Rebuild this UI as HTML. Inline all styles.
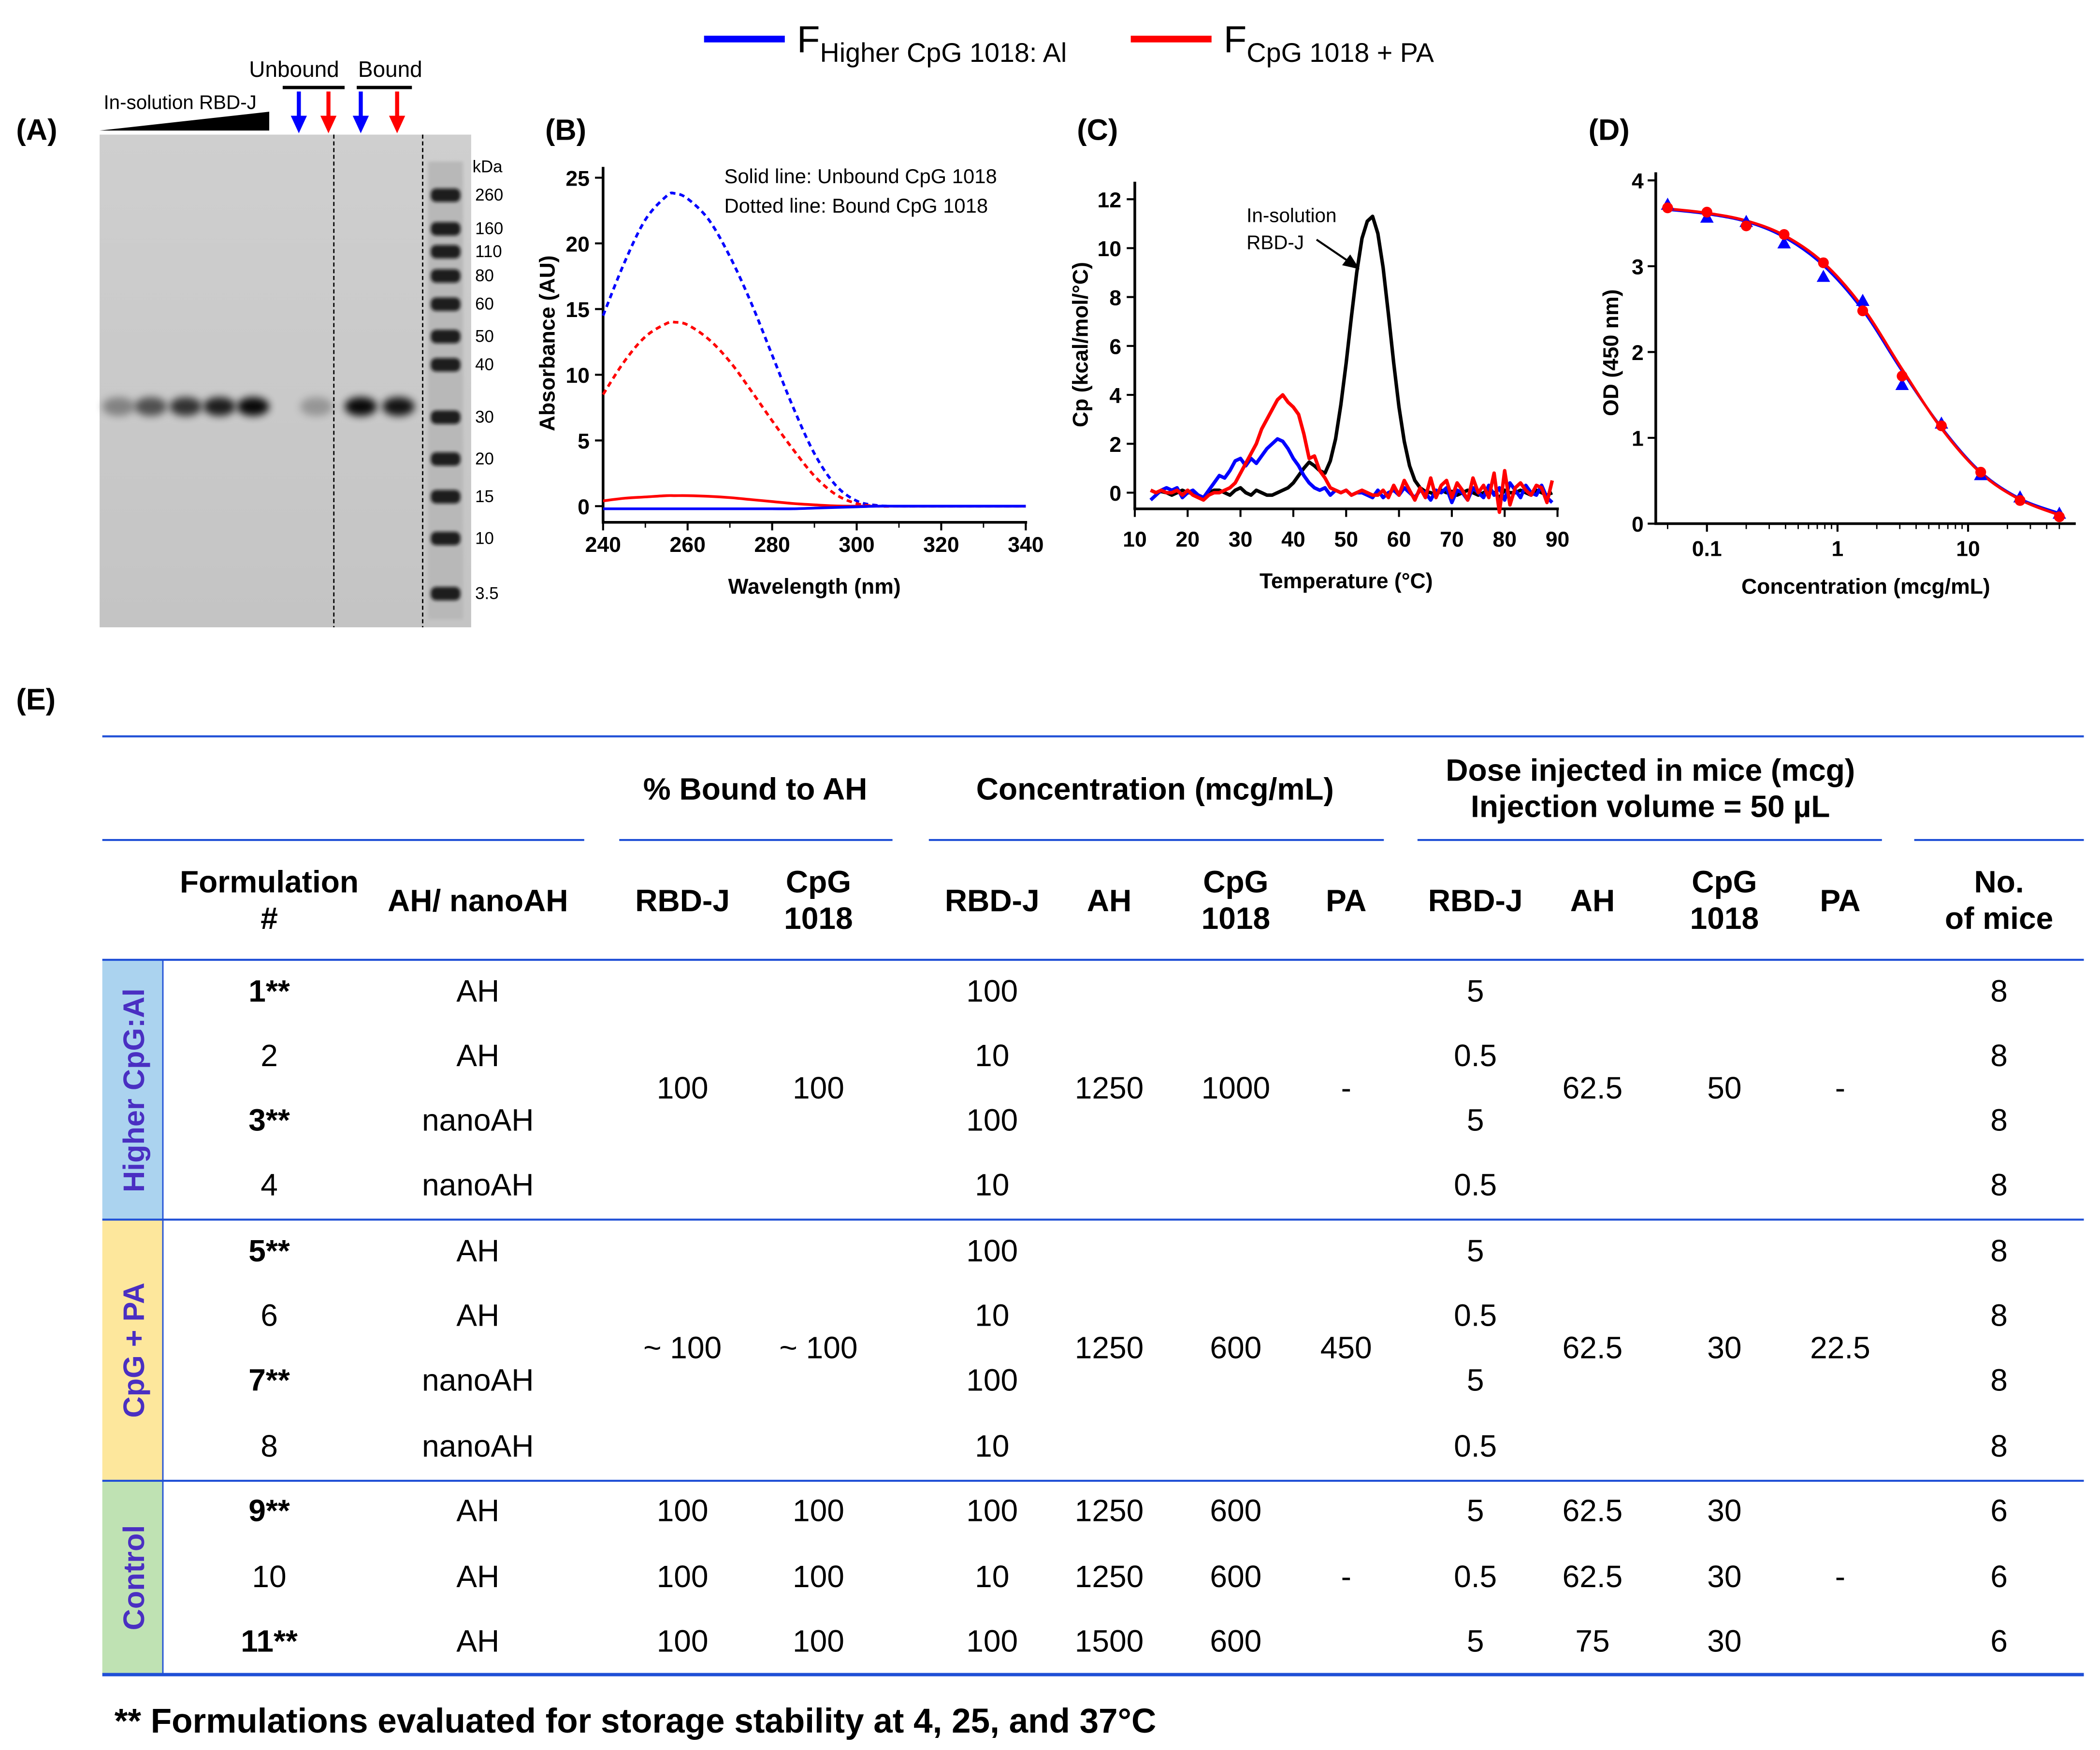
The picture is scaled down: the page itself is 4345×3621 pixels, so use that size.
<!DOCTYPE html>
<html><head><meta charset="utf-8"><style>
html,body{margin:0;padding:0;background:#fff}
svg{display:block}
text{font-family:"Liberation Sans",Arial,sans-serif}
</style></head><body>
<svg id="fig" xmlns="http://www.w3.org/2000/svg" width="4345" height="3621" viewBox="0 0 1560 1300" preserveAspectRatio="none">
<defs>
<filter id="blur2" x="-50%" y="-50%" width="200%" height="200%"><feGaussianBlur stdDeviation="3"/></filter>
<filter id="blur1" x="-50%" y="-50%" width="200%" height="200%"><feGaussianBlur stdDeviation="1.2"/></filter>
<linearGradient id="gelg" x1="0" y1="0" x2="0" y2="1"><stop offset="0" stop-color="#cfcfcf"/><stop offset="1" stop-color="#c4c4c4"/></linearGradient>
</defs>
<rect width="1560" height="1300" fill="#fff"/>
<g>
<line x1="523" y1="29" x2="583" y2="29" stroke="#0000ff" stroke-width="5"/>
<text x="592" y="39" font-size="28">F<tspan font-size="20" dy="7">Higher CpG 1018: Al</tspan></text>
<line x1="840" y1="29" x2="900" y2="29" stroke="#ff0000" stroke-width="5"/>
<text x="909" y="39" font-size="28">F<tspan font-size="20" dy="7">CpG 1018 + PA</tspan></text>
</g>
<g id="panelA">
<text x="12" y="104" font-size="22" font-weight="bold">(A)</text>
<rect x="74" y="100" width="276" height="366" fill="url(#gelg)"/>
<polygon points="74,97 200,83 200,97" fill="#000"/>
<text x="77" y="81" font-size="14.5">In-solution  RBD-J</text>
<text x="185" y="57" font-size="16.5">Unbound</text>
<text x="266" y="57" font-size="16.5">Bound</text>
<line x1="210" y1="65" x2="256" y2="65" stroke="#000" stroke-width="2.5"/>
<line x1="265" y1="65" x2="306" y2="65" stroke="#000" stroke-width="2.5"/>
<line x1="248" y1="100" x2="248" y2="466" stroke="#000" stroke-width="1" stroke-dasharray="3,2"/>
<line x1="314" y1="100" x2="314" y2="466" stroke="#000" stroke-width="1" stroke-dasharray="3,2"/>
</g>
<g id="panelB"></g>
<g id="panelC"></g>
<g id="panelD"></g>
<g id="panelE">
<text x="12" y="527" font-size="22" font-weight="bold">(E)</text>
</g>
</svg>
<script>
const NS='http://www.w3.org/2000/svg';
function mk(parent,tag,attrs,txt){const e=document.createElementNS(NS,tag);for(const k in attrs)e.setAttribute(k,attrs[k]);if(txt!==undefined)e.textContent=txt;parent.appendChild(e);return e;}
function path(pts){return pts.map((p,i)=>(i?'L':'M')+p[0].toFixed(2)+','+p[1].toFixed(2)).join('');}
function smooth(pts){let d='M'+pts[0][0]+','+pts[0][1];for(let i=0;i<pts.length-1;i++){const p0=pts[i-1]||pts[i],p1=pts[i],p2=pts[i+1],p3=pts[i+2]||p2;const c1=[p1[0]+(p2[0]-p0[0])/6,p1[1]+(p2[1]-p0[1])/6],c2=[p2[0]-(p3[0]-p1[0])/6,p2[1]-(p3[1]-p1[1])/6];d+='C'+c1[0]+','+c1[1]+' '+c2[0]+','+c2[1]+' '+p2[0]+','+p2[1];}return d;}

/* ===== Panel A gel data ===== */
const laneIntensity=[0.35,0.6,0.75,0.85,0.95,0,0.25,0,0.95,0.9];
const laneX=[88,112,138,163,188,212,235,258,268,296];
const ladderKda=['260','160','110','80','60','50','40','30','20','15','10','3.5'];
const ladderY=[145,170,187,205,226,250,271,310,341,369,400,441];
const A=document.getElementById('panelA');
laneIntensity.forEach((v,i)=>{if(!v)return;
 const b=mk(A,'ellipse',{cx:laneX[i],cy:302,rx:12,ry:7,fill:'#000',opacity:v,filter:'url(#blur2)'});
 
 });
mk(A,'rect',{x:318,y:120,width:26,height:340,fill:'#b8b8b8',filter:'url(#blur1)'});
ladderY.forEach((y,i)=>{
 const b=mk(A,'rect',{x:320,y:y-5,width:22,height:10,rx:4,fill:'#111',opacity:0.9,filter:'url(#blur1)'});
 
 
 const t=mk(A,'text',{x:353,y:y+4,'font-size':12.5},ladderKda[i]);
 
 });
{const t=mk(A,'text',{x:351,y:128,'font-size':12.5},'kDa');}
const arrowX=[222,244,268,295];const arrowC=['#0000ff','#ff0000','#0000ff','#ff0000'];
arrowX.forEach((x,i)=>{
 const g=mk(A,'g',{});
 
 
 mk(g,'line',{x1:x,y1:68,x2:x,y2:88,stroke:arrowC[i],'stroke-width':3});
 mk(g,'polygon',{points:`${x-6},86 ${x+6},86 ${x},99`,fill:arrowC[i]});});

/* ===== Panel B data ===== */
const wl=[240,245,250,255,257,260,265,270,275,280,285,290,295,300,305,310,320,330,340];
const boundBlue=[14.5,18.5,21.8,23.6,23.8,23.4,21.8,19,15.5,11.5,7.5,4,1.6,0.4,0.05,0,0,0,0];
const boundRed=[8.5,11,12.9,13.9,14,13.8,12.7,11,8.8,6.5,4.3,2.3,0.9,0.2,0,0,0,0,0];
const unboundRed=[0.4,0.6,0.7,0.8,0.8,0.8,0.75,0.65,0.5,0.35,0.2,0.1,0.02,0,0,0,0,0,0];
const unboundBlue=[-0.2,-0.2,-0.2,-0.2,-0.2,-0.2,-0.2,-0.2,-0.2,-0.2,-0.2,-0.15,-0.1,-0.05,0,0,0,0,0];
const bXTicks=[240,260,280,300,320,340];
const bYTicks=[0,5,10,15,20,25];
(function(){
 const G=document.getElementById('panelB');
 const X=v=>448+(v-240)*(762-448)/100, Y=v=>376-v*(376-132)/25;
 const t0=mk(G,'text',{x:405,y:104,'font-size':22,'font-weight':'bold'},'(B)');
 mk(G,'line',{x1:448,y1:124,x2:448,y2:388,stroke:'#000','stroke-width':2});
 mk(G,'line',{x1:447,y1:388,x2:763,y2:388,stroke:'#000','stroke-width':2});
 bXTicks.forEach(v=>{mk(G,'line',{x1:X(v),y1:388,x2:X(v),y2:394,stroke:'#000','stroke-width':1.5});
  const t=mk(G,'text',{x:X(v),y:410,'font-size':16,'font-weight':'bold','text-anchor':'middle'},v);});
 for(let v=250;v<340;v+=20)mk(G,'line',{x1:X(v),y1:388,x2:X(v),y2:392,stroke:'#000','stroke-width':1});
 bYTicks.forEach(v=>{mk(G,'line',{x1:442,y1:Y(v),x2:448,y2:Y(v),stroke:'#000','stroke-width':1.5});
  const t=mk(G,'text',{x:438,y:Y(v)+6,'font-size':16,'font-weight':'bold','text-anchor':'end'},v);});
 const series=[[boundBlue,'#0000ff','4,3','bound-blue-line'],[boundRed,'#ff0000','4,3','bound-red-line'],[unboundRed,'#ff0000','','unbound-red-line'],[unboundBlue,'#0000ff','','unbound-blue-line']];
 series.forEach(s=>{const p=mk(G,'path',{d:smooth(wl.map((w,i)=>[X(w),Y(s[0][i])])),fill:'none',stroke:s[1],'stroke-width':2,'stroke-dasharray':s[2]});
  });
 const yt=mk(G,'text',{x:0,y:0,'font-size':16,'font-weight':'bold','text-anchor':'middle',transform:'translate(412,255) rotate(-90)'},'Absorbance (AU)');
 const xt=mk(G,'text',{x:605,y:441,'font-size':16,'font-weight':'bold','text-anchor':'middle'},'Wavelength (nm)');
 const n1=mk(G,'text',{x:538,y:136,'font-size':15},'Solid line: Unbound CpG 1018');
 const n2=mk(G,'text',{x:538,y:158,'font-size':15},'Dotted line: Bound CpG 1018');
})();

/* ===== Panel C data ===== */
const cStart=13;
const cpBlack=[0.1,0,0.05,0,-0.1,0,0.1,0,0,-0.1,-0.2,0,0.1,0.1,0,-0.1,0.1,0.2,0,-0.1,0.1,0,-0.1,-0.1,0,0.1,0.2,0.4,0.7,1.0,1.25,1.1,0.9,0.8,1.3,2.2,3.6,5.3,7.2,9.0,10.4,11.1,11.3,10.6,9.2,7.3,5.3,3.5,2.1,1.1,0.5,0.2,0.05,0,-0.1,0.1,0,0.05,-0.1,0,0.1,0,-0.1,0,0.1,0,-0.2,0.1,0,0,0.1,0,-0.1,0.1,0,-0.1,0];
const cpBlue=[-0.3,-0.1,0.1,0.2,0.1,0.2,-0.2,0,0.1,-0.1,-0.2,0.1,0.4,0.7,0.6,0.9,1.3,1.4,1.1,1.4,1.2,1.5,1.8,2.0,2.2,2.1,1.8,1.4,1.1,0.7,0.4,0.2,0.1,0.2,-0.1,0.1,0,0.1,-0.1,0,0,-0.1,-0.2,0.1,-0.2,0,0.1,-0.1,0.2,0,-0.2,0.1,0,-0.3,0.1,0,0.2,-0.4,0.1,0,-0.3,0.2,0,-0.2,0.3,-0.1,0.2,-0.3,0.4,0.1,-0.2,0.3,0,-0.1,0.3,-0.2,-0.4];
const cpRed=[0.1,0,0.1,0,0,0.1,-0.1,0.1,-0.1,-0.2,-0.3,-0.1,0,0,0.1,0.2,0.4,0.8,1.2,1.6,2.0,2.6,3.0,3.4,3.8,4.0,3.7,3.5,3.2,2.4,1.4,1.5,0.9,0.6,0.2,0.1,0,0.1,-0.1,0,0.1,0,-0.1,-0.1,0.1,-0.2,0.3,-0.1,0.5,0.1,-0.3,0.2,-0.2,0.6,-0.2,0.3,0.5,-0.2,0.4,0.1,-0.3,0.6,0,0.3,-0.2,0.8,-0.8,0.9,-0.5,0.2,0.4,0.1,-0.1,0.3,0.2,-0.4,0.5];
const cXTicks=[10,20,30,40,50,60,70,80,90];
const cYTicks=[0,2,4,6,8,10,12];
(function(){
 const G=document.getElementById('panelC');
 const X=v=>843+(v-10)*(1157-843)/80, Y=v=>366-v*(366-148)/12;
 const t0=mk(G,'text',{x:800,y:104,'font-size':22,'font-weight':'bold'},'(C)');
 mk(G,'line',{x1:843,y1:135,x2:843,y2:378,stroke:'#000','stroke-width':2});
 mk(G,'line',{x1:842,y1:378,x2:1158,y2:378,stroke:'#000','stroke-width':2});
 cXTicks.forEach(v=>{mk(G,'line',{x1:X(v),y1:378,x2:X(v),y2:384,stroke:'#000','stroke-width':1.5});
  const t=mk(G,'text',{x:X(v),y:406,'font-size':16,'font-weight':'bold','text-anchor':'middle'},v);});
 cYTicks.forEach(v=>{mk(G,'line',{x1:837,y1:Y(v),x2:843,y2:Y(v),stroke:'#000','stroke-width':1.5});
  const t=mk(G,'text',{x:833,y:Y(v)+6,'font-size':16,'font-weight':'bold','text-anchor':'end'},v);});
 [[cpBlack,'#000','black-dsc-line'],[cpBlue,'#0000ff','blue-dsc-line'],[cpRed,'#ff0000','red-dsc-line']].forEach(s=>{
  const p=mk(G,'path',{d:path(s[0].map((v,i)=>[X(cStart+i),Y(v)])),fill:'none',stroke:s[1],'stroke-width':2.6,'stroke-linejoin':'round'});
  });
 const a1=mk(G,'text',{x:926,y:165,'font-size':14.5},'In-solution');
 const a2=mk(G,'text',{x:926,y:185,'font-size':14.5},'RBD-J');
 mk(G,'line',{x1:978,y1:178,x2:1003,y2:195,stroke:'#000','stroke-width':1.5});
 mk(G,'polygon',{points:'1010,200 997,197 1003,189',fill:'#000'});
 const yt=mk(G,'text',{x:0,y:0,'font-size':16,'font-weight':'bold','text-anchor':'middle',transform:'translate(808,256) rotate(-90)'},'Cp (kcal/mol/°C)');
 const xt=mk(G,'text',{x:1000,y:437,'font-size':16,'font-weight':'bold','text-anchor':'middle'},'Temperature (°C)');
})();

/* ===== Panel D data ===== */
const conc=[0.05,0.1,0.2,0.39,0.78,1.56,3.125,6.25,12.5,25,50];
const odRed=[3.68,3.63,3.47,3.37,3.04,2.48,1.72,1.14,0.6,0.27,0.08];
const odBlue=[3.72,3.57,3.52,3.27,2.88,2.6,1.62,1.17,0.57,0.31,0.12];
const fitRed=[3.67,3.62,3.53,3.36,3.04,2.52,1.8,1.11,0.59,0.28,0.1];
const fitBlue=[3.66,3.61,3.52,3.34,3.01,2.49,1.78,1.12,0.6,0.29,0.12];
const dXTicks=[0.1,1,10];const dXLabels=['0.1','1','10'];
const dYTicks=[0,1,2,3,4];
(function(){
 const G=document.getElementById('panelD');
 const X=v=>1365+Math.log10(v)*97, Y=v=>389-v*(389-134)/4;
 const t0=mk(G,'text',{x:1180,y:104,'font-size':22,'font-weight':'bold'},'(D)');
 mk(G,'line',{x1:1230,y1:128,x2:1230,y2:389,stroke:'#000','stroke-width':2});
 mk(G,'line',{x1:1229,y1:389,x2:1542,y2:389,stroke:'#000','stroke-width':2});
 dXTicks.forEach((v,i)=>{mk(G,'line',{x1:X(v),y1:389,x2:X(v),y2:395,stroke:'#000','stroke-width':1.5});
  const t=mk(G,'text',{x:X(v),y:413,'font-size':16,'font-weight':'bold','text-anchor':'middle'},dXLabels[i]);});
 [0.05,0.2,0.3,0.4,0.5,0.6,0.7,0.8,0.9,2,3,4,5,6,7,8,9,20,30,40,50].forEach(v=>mk(G,'line',{x1:X(v),y1:389,x2:X(v),y2:393,stroke:'#000','stroke-width':1}));
 dYTicks.forEach(v=>{mk(G,'line',{x1:1224,y1:Y(v),x2:1230,y2:Y(v),stroke:'#000','stroke-width':1.5});
  const t=mk(G,'text',{x:1221,y:Y(v)+6,'font-size':16,'font-weight':'bold','text-anchor':'end'},v);});
 const pb=mk(G,'path',{d:smooth(conc.map((c,i)=>[X(c),Y(fitBlue[i])])),fill:'none',stroke:'#0000ff','stroke-width':2});
 const pr=mk(G,'path',{d:smooth(conc.map((c,i)=>[X(c),Y(fitRed[i])])),fill:'none',stroke:'#ff0000','stroke-width':2});
 conc.forEach((c,i)=>{const x=X(c),y=Y(odBlue[i]);
  const m=mk(G,'polygon',{points:`${x-5},${y+4} ${x+5},${y+4} ${x},${y-5}`,fill:'#0000ff'});});
 conc.forEach((c,i)=>{const x=X(c),y=Y(odRed[i]);
  const m=mk(G,'circle',{cx:x,cy:y,r:4,fill:'#ff0000'});});
 const yt=mk(G,'text',{x:0,y:0,'font-size':16,'font-weight':'bold','text-anchor':'middle',transform:'translate(1202,262) rotate(-90)'},'OD (450 nm)');
 const xt=mk(G,'text',{x:1386,y:441,'font-size':16,'font-weight':'bold','text-anchor':'middle'},'Concentration (mcg/mL)');
})();

/* ===== Panel E table ===== */
(function(){
 const G=document.getElementById('panelE');const BL='#1f4fd6';
 mk(G,'rect',{x:76,y:713,width:45,height:193,fill:'#abd3ef'});
 mk(G,'rect',{x:76,y:906,width:45,height:194,fill:'#fde79c'});
 mk(G,'rect',{x:76,y:1100,width:45,height:144,fill:'#bfe2b3'});
 mk(G,'line',{x1:76,y1:547,x2:1548,y2:547,stroke:BL,'stroke-width':1.5});
 [[76,434],[460,663],[690,1028],[1053,1398],[1422,1548]].forEach(s=>mk(G,'line',{x1:s[0],y1:624,x2:s[1],y2:624,stroke:BL,'stroke-width':1.5}));
 [713,906,1100].forEach(y=>mk(G,'line',{x1:76,y1:y,x2:1548,y2:y,stroke:BL,'stroke-width':1.5}));
 mk(G,'line',{x1:76,y1:1244,x2:1548,y2:1244,stroke:BL,'stroke-width':2.5});
 mk(G,'line',{x1:121,y1:713,x2:121,y2:1244,stroke:BL,'stroke-width':1});
 const T=(x,y,s,bold,name)=>{const t=mk(G,'text',{x:x,y:y,'font-size':23,'font-weight':bold?'bold':'normal','text-anchor':'middle'},s);
  return t;};
 T(561,594,'% Bound to AH',1,'header-bound');
 T(858,594,'Concentration (mcg/mL)',1,'header-concentration');
 T(1226,580,'Dose injected in mice (mcg)',1,'header-dose');
 T(1226,607,'Injection volume = 50 µL',1,'header-volume');
 const two=[[200,'Formulation','#'],[608,'CpG','1018'],[918,'CpG','1018'],[1281,'CpG','1018'],[1485,'No.','of mice']];
 two.forEach(h=>{T(h[0],663,h[1],1,'column-header');T(h[0],690,h[2],1,'column-header');});
 [[355,'AH/ nanoAH'],[507,'RBD-J'],[737,'RBD-J'],[824,'AH'],[1000,'PA'],[1096,'RBD-J'],[1183,'AH'],[1367,'PA']].forEach(h=>T(h[0],677,h[1],1,'column-header'));
 const rowY=[738,786,834,882,931,979,1027,1076,1124,1173,1221];
 const form=['1**','2','3**','4','5**','6','7**','8','9**','10','11**'];
 const type=['AH','AH','nanoAH','nanoAH','AH','AH','nanoAH','nanoAH','AH','AH','AH'];
 const cRBD=['100','10','100','10','100','10','100','10','100','10','100'];
 const dRBD=['5','0.5','5','0.5','5','0.5','5','0.5','5','0.5','5'];
 const mice=['8','8','8','8','8','8','8','8','6','6','6'];
 rowY.forEach((y,i)=>{const yy=y+6;
  T(200,yy,form[i],form[i].includes('*'),'formulation-number');
  T(355,yy,type[i],0,'adjuvant-type');T(737,yy,cRBD[i],0,'conc-rbd');T(1096,yy,dRBD[i],0,'dose-rbd');T(1485,yy,mice[i],0,'mice-count');});
 const g1=[[507,'100'],[608,'100'],[824,'1250'],[918,'1000'],[1000,'-'],[1183,'62.5'],[1281,'50'],[1367,'-']];
 g1.forEach(c=>T(c[0],816,c[1],0,'merged-cell'));
 const g2=[[507,'~ 100'],[608,'~ 100'],[824,'1250'],[918,'600'],[1000,'450'],[1183,'62.5'],[1281,'30'],[1367,'22.5']];
 g2.forEach(c=>T(c[0],1009,c[1],0,'merged-cell'));
 const ctrl=[['100','100','1250','600','62.5','30'],['100','100','1250','600','62.5','30'],['100','100','1500','600','75','30']];
 const cx=[507,608,824,918,1183,1281];
 ctrl.forEach((r,j)=>r.forEach((v,k)=>T(cx[k],rowY[8+j]+6,v,0,'control-cell')));
 T(1000,1179,'-',0,'merged-cell');T(1367,1179,'-',0,'merged-cell');
 const side=[['Higher CpG:Al',810],['CpG + PA',1003],['Control',1172]];
 side.forEach(s=>{const t=mk(G,'text',{x:0,y:0,'font-size':22,'font-weight':'bold','fill':'#4a2fc2','text-anchor':'middle',transform:`translate(107,${s[1]}) rotate(-90)`},s[0]);
  });
 const f=mk(G,'text',{x:85,y:1287,'font-size':25.5,'font-weight':'bold'},'** Formulations evaluated for storage stability at 4, 25, and 37°C');
 
})();
</script>
</body></html>
